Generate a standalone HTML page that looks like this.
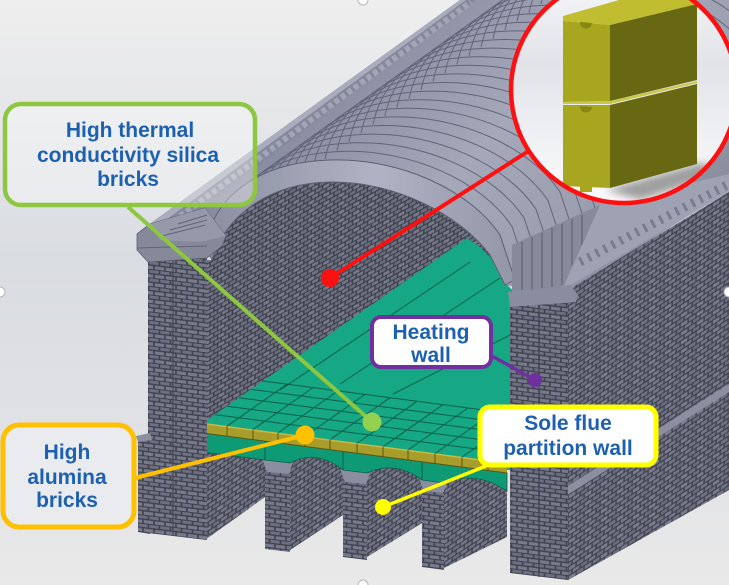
<!DOCTYPE html>
<html><head><meta charset="utf-8"><style>
html,body{margin:0;padding:0;background:#e6e7ea;}
svg{display:block;}
.t{font-family:"Liberation Sans",Arial,sans-serif;font-weight:bold;fill:#1e60b0;text-anchor:middle;}
</style></head><body>
<svg width="729" height="585" viewBox="0 0 729 585" xmlns="http://www.w3.org/2000/svg" xmlns:xlink="http://www.w3.org/1999/xlink">
<defs>
<linearGradient id="bg" x1="0" y1="0" x2="0" y2="1">
<stop offset="0" stop-color="#eeeeee"/><stop offset="0.45" stop-color="#d9dce1"/><stop offset="0.72" stop-color="#e0e1e4"/><stop offset="1" stop-color="#e9e9e9"/>
</linearGradient>
<linearGradient id="roofg" gradientUnits="userSpaceOnUse" x1="300" y1="60" x2="580" y2="320">
<stop offset="0" stop-color="#82859a"/><stop offset="0.5" stop-color="#a5a8b9"/><stop offset="0.8" stop-color="#9c9fb0"/><stop offset="1" stop-color="#8c8fa0"/>
</linearGradient>
<linearGradient id="archg" gradientUnits="userSpaceOnUse" x1="210" y1="0" x2="515" y2="0">
<stop offset="0" stop-color="#8d90a1"/><stop offset="0.55" stop-color="#b0b3c3"/><stop offset="1" stop-color="#9396a7"/>
</linearGradient>
<linearGradient id="circg" gradientUnits="userSpaceOnUse" x1="0" y1="-30" x2="0" y2="205">
<stop offset="0" stop-color="#f7f8fa"/><stop offset="0.4" stop-color="#e1e3e8"/><stop offset="0.7" stop-color="#eff0f3"/><stop offset="1" stop-color="#fbfbfc"/>
</linearGradient>
<pattern id="bw" width="16" height="9" patternUnits="userSpaceOnUse" patternTransform="skewY(-33)">
<rect width="16" height="9" fill="#3f414d"/>
<rect x="0.8" y="0.8" width="6.6" height="3.3" fill="#707383"/>
<rect x="8.8" y="0.8" width="6.6" height="3.3" fill="#7a7d8d"/>
<rect x="-3.2" y="5.3" width="6.6" height="3.1" fill="#74778a"/>
<rect x="4.8" y="5.3" width="6.6" height="3.1" fill="#6b6e7e"/>
<rect x="12.8" y="5.3" width="6.6" height="3.1" fill="#74778a"/>
</pattern>
<pattern id="bi" width="15" height="8.5" patternUnits="userSpaceOnUse" patternTransform="skewY(-28)">
<rect width="15" height="8.5" fill="#3e404c"/>
<rect x="0.8" y="0.8" width="6.1" height="3.1" fill="#6c6f7f"/>
<rect x="8.3" y="0.8" width="6.1" height="3.1" fill="#787b8b"/>
<rect x="-3" y="5" width="6.1" height="2.9" fill="#737686"/>
<rect x="4.5" y="5" width="6.1" height="2.9" fill="#696c7c"/>
<rect x="12" y="5" width="6.1" height="2.9" fill="#737686"/>
</pattern>
<pattern id="bf" width="11" height="8.5" patternUnits="userSpaceOnUse" patternTransform="skewY(7)">
<rect width="11" height="8.5" fill="#3f414d"/>
<rect x="0.8" y="0.8" width="9.4" height="3.2" fill="#777a8c"/>
<rect x="-4.7" y="5" width="9.4" height="2.9" fill="#6d7081"/>
<rect x="6.3" y="5" width="9.4" height="2.9" fill="#6d7081"/>
</pattern>
<path id="arcO" d="M205,245 C215,195 260,162 330,160 C400,158 470,190 500,235 L515,280"/>
<clipPath id="roofclip"><polygon points="140,231 460,0 729,0 729,190 568,292 205,255"/></clipPath>
<clipPath id="greenclip"><path d="M203,423 L467,238 L480,247 L493,260 L505,283 L520,297 L510,307 L510,470 L203,470 Z"/></clipPath>
<clipPath id="circ"><circle cx="624" cy="90" r="113"/></clipPath>
<filter id="blur" x="-20%" y="-50%" width="140%" height="200%"><feGaussianBlur stdDeviation="4"/></filter>
</defs>

<rect width="729" height="585" fill="url(#bg)"/>

<!-- roof mass -->
<polygon points="140,231 460,0 729,0 729,190 568,292 205,255" fill="url(#roofg)"/>
<g clip-path="url(#roofclip)" fill="none" stroke="#62657a" stroke-width="1">
<use xlink:href="#arcO" transform="translate(12,-8.6)"/>
<use xlink:href="#arcO" transform="translate(24,-17.2)"/>
<use xlink:href="#arcO" transform="translate(36,-25.8)"/>
<use xlink:href="#arcO" transform="translate(48,-34.4)"/>
<use xlink:href="#arcO" transform="translate(60,-43)"/>
<use xlink:href="#arcO" transform="translate(72,-51.6)"/>
<use xlink:href="#arcO" transform="translate(84,-60.2)"/>
<use xlink:href="#arcO" transform="translate(96,-68.8)"/>
<use xlink:href="#arcO" transform="translate(108,-77.4)"/>
<use xlink:href="#arcO" transform="translate(120,-86)"/>
<use xlink:href="#arcO" transform="translate(132,-94.6)"/>
<use xlink:href="#arcO" transform="translate(144,-103.2)"/>
<use xlink:href="#arcO" transform="translate(156,-111.8)"/>
<use xlink:href="#arcO" transform="translate(168,-120.4)"/>
<use xlink:href="#arcO" transform="translate(180,-129)"/>
<use xlink:href="#arcO" transform="translate(192,-137.6)"/>
<use xlink:href="#arcO" transform="translate(204,-146.2)"/>
<use xlink:href="#arcO" transform="translate(216,-154.8)"/>
<use xlink:href="#arcO" transform="translate(228,-163.4)"/>
<use xlink:href="#arcO" transform="translate(240,-172)"/>
<use xlink:href="#arcO" transform="translate(252,-180.6)"/>
<use xlink:href="#arcO" transform="translate(264,-189.2)"/>
<use xlink:href="#arcO" transform="translate(276,-197.8)"/>
<use xlink:href="#arcO" transform="translate(288,-206.4)"/>
<use xlink:href="#arcO" transform="translate(300,-215)"/>
<use xlink:href="#arcO" transform="translate(312,-223.6)"/>
<use xlink:href="#arcO" transform="translate(324,-232.2)"/>
<use xlink:href="#arcO" transform="translate(336,-240.8)"/>
</g>

<!-- left cornice -->
<polygon points="140,231 460,0 476,0 152,245" fill="#85889a"/>
<line x1="148" y1="240" x2="471" y2="2" stroke="#a2a5b6" stroke-width="6" stroke-dasharray="5 3"/>
<polygon points="140,231 460,0 466,0 144,236" fill="#a9acbc"/>

<!-- interior back wall -->
<path d="M212,260 C225,215 270,183 330,182 C395,181 460,215 490,255 L505,285 L510,300 L510,470 L205,470 L205,260 Z" fill="url(#bi)"/>

<!-- green section -->
<path d="M203,423 L467,238 L480,247 L493,260 L505,283 L520,297 L510,307 L510,470 L203,470 Z" fill="#16a884"/>
<g clip-path="url(#greenclip)" stroke="#0c5f48" stroke-width="1" fill="none">
<line x1="340" y1="384" x2="500" y2="278"/>
<line x1="393" y1="394" x2="512" y2="334"/>
<line x1="280" y1="390" x2="470" y2="262"/>
<line x1="215" y1="414.6" x2="519" y2="454.6"/>
<line x1="227" y1="406.2" x2="531" y2="446.2"/>
<line x1="239" y1="397.8" x2="543" y2="437.8"/>
<line x1="251" y1="389.4" x2="555" y2="429.4"/>
<line x1="263" y1="381" x2="567" y2="421"/>
<line x1="227" y1="426.2" x2="287" y2="384.2"/>
<line x1="253" y1="429.6" x2="313" y2="387.6"/>
<line x1="278" y1="432.9" x2="338" y2="390.9"/>
<line x1="305" y1="436.4" x2="365" y2="394.4"/>
<line x1="330" y1="439.7" x2="390" y2="397.7"/>
<line x1="357" y1="443.3" x2="417" y2="401.3"/>
<line x1="383" y1="446.7" x2="443" y2="404.7"/>
<line x1="408" y1="450" x2="468" y2="408"/>
<line x1="435" y1="453.5" x2="495" y2="411.5"/>
<line x1="462" y1="457.1" x2="522" y2="415.1"/>
<line x1="488" y1="460.5" x2="548" y2="418.5"/>
</g>

<!-- arch band -->
<path d="M205,245 C215,195 260,162 330,160 C400,158 470,190 500,235 L515,280 L505,285 L490,255 C460,215 395,181 330,182 C270,183 225,215 212,260 Z" fill="url(#archg)" stroke="#5d6071" stroke-width="1"/>

<!-- right gable block & eave -->
<polygon points="512,245 600,205 565,290 512,292" fill="#878a9b"/>
<g stroke="#5f6273" stroke-width="1.2">
<line x1="522" y1="242" x2="522" y2="290"/><line x1="532" y1="237" x2="532" y2="290"/><line x1="542" y1="233" x2="542" y2="290"/><line x1="552" y1="228" x2="552" y2="290"/><line x1="562" y1="224" x2="562" y2="285"/><line x1="572" y1="219" x2="572" y2="265"/><line x1="582" y1="215" x2="582" y2="245"/>
</g>
<polygon points="562,290 600,205 729,174 729,192" fill="#9fa2b3"/>
<line x1="580" y1="262" x2="729" y2="184" stroke="#7a7d8f" stroke-width="9" stroke-dasharray="3 6"/>

<!-- right wall -->
<polygon points="568,290 729,192 729,490 568,580" fill="url(#bw)"/>
<polygon points="566,487 729,384 729,392 566,496" fill="#8c8fa0"/>

<!-- right pier -->
<polygon points="510,300 568,293 568,580 510,573" fill="url(#bf)"/>
<line x1="539" y1="297" x2="539" y2="577" stroke="#3d3f4b" stroke-width="1"/>
<polygon points="508,292 570,285 578,295 576,302 510,307" fill="#8a8da0"/>

<!-- under floor walls -->
<polygon points="205,450 265,456 265,497 205,540" fill="url(#bw)"/>
<polygon points="290,458 343,452 343,515 290,550" fill="url(#bw)"/>
<polygon points="367,468 422,462 422,523 367,557" fill="url(#bw)"/>
<polygon points="444,478 507,472 507,537 444,568" fill="url(#bw)"/>
<polygon points="265,460 290,463 290,552 265,549" fill="url(#bf)"/>
<polygon points="343,470 367,473 367,560 343,557" fill="url(#bf)"/>
<polygon points="422,480 444,483 444,570 422,567" fill="url(#bf)"/>
<polygon points="262,458 293,462 289,474 267,472" fill="#8b8ea0"/>
<polygon points="340,469 370,473 366,484 345,482" fill="#8b8ea0"/>
<polygon points="419,479 447,483 443,493 424,491" fill="#8b8ea0"/>

<!-- green band & olive strip -->
<path d="M203,433 L507,473 L507,491 Q475,470 444,483 L422,480 Q395,460 367,473 L343,470 Q316,449 290,463 L265,460 L203,452 Z" fill="#0f9a76" stroke="#0c5f48" stroke-width="0.8"/>
<g stroke="#0c5f48" stroke-width="1"><line x1="265" y1="441" x2="265" y2="460"/><line x1="343" y1="452" x2="343" y2="470"/><line x1="422" y1="462" x2="422" y2="480"/></g>
<polygon points="203,423 507,463 507,473 203,433" fill="#a89c2a"/>
<line x1="203" y1="423.5" x2="507" y2="463.5" stroke="#c6ba46" stroke-width="1.5"/>
<g stroke="#5e5715" stroke-width="1">
<line x1="227" y1="426.2" x2="227" y2="436.2"/><line x1="253" y1="429.6" x2="253" y2="439.6"/><line x1="278" y1="432.9" x2="278" y2="442.9"/><line x1="305" y1="436.4" x2="305" y2="446.4"/><line x1="330" y1="439.7" x2="330" y2="449.7"/><line x1="357" y1="443.3" x2="357" y2="453.3"/><line x1="383" y1="446.7" x2="383" y2="456.7"/><line x1="408" y1="450" x2="408" y2="460"/><line x1="435" y1="453.5" x2="435" y2="463.5"/><line x1="462" y1="457.1" x2="462" y2="467.1"/><line x1="488" y1="460.5" x2="488" y2="470.5"/>
<line x1="203" y1="433" x2="507" y2="473"/>
</g>

<!-- left pier -->
<polygon points="148,255 207,250 207,540 148,533" fill="url(#bf)"/>
<line x1="173" y1="253" x2="173" y2="536" stroke="#3d3f4b" stroke-width="1"/>
<polygon points="138,437 150,436 150,534 138,532" fill="url(#bf)"/>
<polygon points="136,436 150,433 152,440 138,442" fill="#8c8fa0"/>
<!-- left capital / gable -->
<polygon points="137,234 150,224 205,208 226,236 222,246 207,258 148,262 137,250" fill="#868999" stroke="#5d6071" stroke-width="0.8"/>
<polygon points="150,224 205,208 226,236 200,242 160,240" fill="#9699aa"/>
<g stroke="#62657a" stroke-width="1">
<line x1="162" y1="236" x2="205" y2="225"/><line x1="170" y1="230" x2="207" y2="220"/><line x1="178" y1="224" x2="207" y2="215"/>
<line x1="137" y1="248" x2="207" y2="246"/>
</g>

<!-- magnifier circle -->
<circle cx="624" cy="90" r="113" fill="url(#circg)"/>
<g clip-path="url(#circ)">
<polygon points="606,190 700,163 728,172 640,200" fill="#555" opacity="0.55" filter="url(#blur)"/>
<polygon points="563,21 610,25 697,4 697,-6 640,-6 563,16" fill="#c0be30"/>
<polygon points="563,21 610,25 610,101 563,102" fill="#a8a61f"/>
<polygon points="610,25 697,4 697,80 610,101" fill="#696812"/>
<polygon points="563,105 610,105 610,188 563,186" fill="#a8a61f"/>
<polygon points="610,105 697,84 697,164 610,188" fill="#696812"/>
<polygon points="563,104 610,104 697,83 697,81 610,101 563,102" fill="#c9c74a"/>
<path d="M580,22 A6,6 0 0 0 592,23" fill="#878612"/>
<path d="M580,106 A6,6 0 0 0 592,107" fill="#878612"/>
<path d="M580,188 A6,6 0 0 1 592,189 L592,192 L580,192 Z" fill="#a8a61f"/>
</g>
<circle cx="624" cy="90" r="113" fill="none" stroke="#ff1010" stroke-width="4.5"/>

<!-- leader lines -->
<line x1="527" y1="152" x2="330" y2="278" stroke="#ff1010" stroke-width="4"/>
<circle cx="330" cy="278" r="9" fill="#ff1010"/>
<line x1="128" y1="207" x2="372" y2="422" stroke="#8dc63f" stroke-width="4"/>
<circle cx="372" cy="422" r="9.5" fill="#92d050"/>
<line x1="135" y1="478" x2="305" y2="435" stroke="#ffc000" stroke-width="4"/>
<circle cx="305" cy="435" r="9.5" fill="#ffc000"/>
<line x1="490" y1="355" x2="535" y2="380" stroke="#7030a0" stroke-width="3.5"/>
<circle cx="535" cy="380" r="7" fill="#7030a0"/>
<line x1="486" y1="466" x2="383" y2="507" stroke="#ffff00" stroke-width="3.5"/>
<circle cx="383" cy="507" r="8" fill="#ffff00"/>

<!-- labels -->
<rect x="5" y="104" width="250" height="101" rx="16" fill="#ffffff" fill-opacity="0.35" stroke="#8dc63f" stroke-width="4.5"/>
<text class="t" x="130" y="137" font-size="21">High thermal</text>
<text class="t" x="128" y="162" font-size="21">conductivity silica</text>
<text class="t" x="128" y="186" font-size="21">bricks</text>

<rect x="3" y="425" width="131" height="102" rx="16" fill="#eaebee" stroke="#ffc000" stroke-width="5"/>
<text class="t" x="67" y="459" font-size="21">High</text>
<text class="t" x="67" y="484" font-size="21">alumina</text>
<text class="t" x="67" y="507" font-size="21">bricks</text>

<rect x="372" y="317" width="119" height="50" rx="9" fill="#ffffff" stroke="#7030a0" stroke-width="4"/>
<text class="t" x="431" y="339" font-size="21">Heating</text>
<text class="t" x="431" y="362" font-size="21">wall</text>

<rect x="480" y="407" width="176" height="58" rx="10" fill="#ffffff" stroke="#ffff00" stroke-width="5"/>
<text class="t" x="568" y="430" font-size="21">Sole flue</text>
<text class="t" x="568" y="455" font-size="21">partition wall</text>

<!-- selection handles -->
<g fill="#ffffff" stroke="#b5b5b5" stroke-width="1">
<circle cx="363" cy="0" r="5"/><circle cx="0" cy="292" r="5"/><circle cx="729" cy="292" r="5"/><circle cx="363" cy="585" r="5"/>
</g>
</svg>
</body></html>
